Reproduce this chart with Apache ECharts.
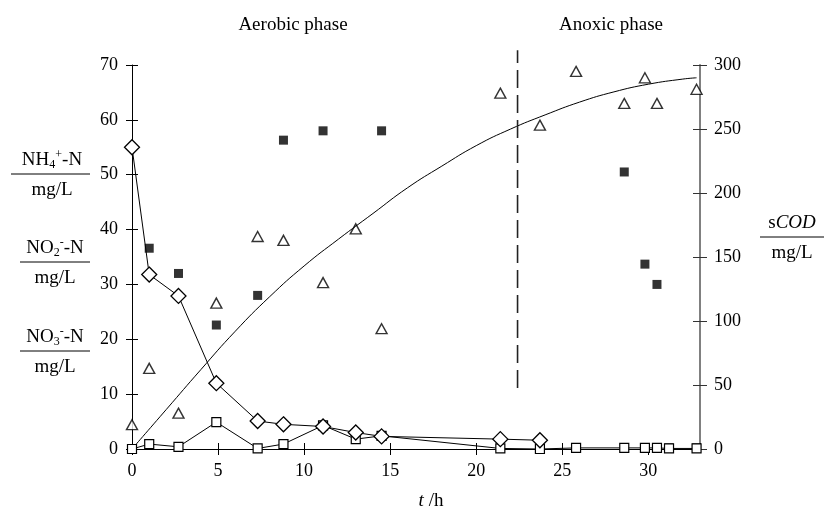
<!DOCTYPE html>
<html>
<head>
<meta charset="utf-8">
<script src="https://cdn.jsdelivr.net/npm/echarts@6/dist/echarts.min.js"></script>
<style>
  html, body { margin: 0; padding: 0; background: #fff; }
  #chart { width: 826px; height: 515px; }
</style>
</head>
<body>
<div id="chart"></div>
<script>
// NH4+-N (open diamonds, joined)
var nh4Time = [0, 1.0, 2.7, 4.9, 7.3, 8.8, 11.1, 13.0, 14.5, 21.4, 23.7];
var nh4Val  = [55, 31.8, 27.9, 12.0, 5.1, 4.5, 4.1, 3.0, 2.3, 1.8, 1.6];
// NO3--N (open squares, joined)
var no3Time = [0, 1.0, 2.7, 4.9, 7.3, 8.8, 11.1, 13.0, 14.5, 21.4, 23.7, 25.8, 28.6, 29.8, 30.5, 31.2, 32.8];
var no3Val  = [0, 0.9, 0.4, 4.9, 0.1, 0.9, 4.3, 1.8, 2.4, 0.1, 0, 0.2, 0.2, 0.2, 0.2, 0.1, 0.1];
// NO2--N (filled squares)
var no2Time = [1.0, 2.7, 4.9, 7.3, 8.8, 11.1, 14.5, 23.7, 28.6, 29.8, 30.5, 31.2, 32.8];
var no2Val  = [36.6, 32.0, 22.6, 28.0, 56.3, 58.0, 58.0, 0, 50.5, 33.7, 30.0, 0.2, 0.2];
// sCOD measured (open triangles, right axis)
var codTime = [0, 1.0, 2.7, 4.9, 7.3, 8.8, 11.1, 13.0, 14.5, 21.4, 23.7, 25.8, 28.6, 29.8, 30.5, 32.8];
var codVal  = [19, 63, 28, 114, 166, 163, 130, 172, 94, 278, 253, 295, 270, 290, 270, 281];
// sCOD fitted curve
var fitTime = [0, 2, 4, 6, 8, 10, 12, 14, 16, 18, 20, 22, 24, 26, 28, 30, 32, 32.8];
var fitVal  = [0, 31, 62, 92, 119, 143, 164, 184, 204, 221, 237, 250, 261, 271, 279, 285, 289, 290];
// phase boundary
var dashTime = [22.4, 22.4];
var dashVal  = [11.1, 72.7];

var leftTicks = [0, 70, 10];
var rightTicks = [0, 300, 50];
var timeTicks = [0, 33, 5];

function pairs(xs, ys) {
  return xs.map(function (x, i) { return [x, ys[i]]; });
}

var FONT = 'Liberation Serif';
var txt = { fontFamily: FONT, fontSize: 18, color: '#000' };

function frac(cx, y, textTop, x1, x2) {
  return [
    { type: 'text', x: cx, y: y, style: { text: textTop, rich: rich, align: 'center', verticalAlign: 'middle', fill: '#000' } },
    { type: 'line', shape: { x1: x1, y1: y + 14, x2: x2, y2: y + 14 }, style: { stroke: '#000', lineWidth: 1 } },
    { type: 'text', x: cx, y: y + 30, style: { text: 'mg/L', font: '19px "Liberation Serif"', align: 'center', verticalAlign: 'middle', fill: '#000' } }
  ];
}

var rich = {
  n: { fontFamily: FONT, fontSize: 19, lineHeight: 22, color: '#000' },
  i: { fontFamily: FONT, fontSize: 19, lineHeight: 22, fontStyle: 'italic', color: '#000' },
  sub: { fontFamily: FONT, fontSize: 12, lineHeight: 12, verticalAlign: 'bottom', color: '#000' },
  sup: { fontFamily: FONT, fontSize: 12, lineHeight: 12, verticalAlign: 'top', color: '#000' }
};

// plain helper axis: only inward ticks, so that ticks cross the real axis
function tickAxis(grid, pos, range, len, color) {
  return {
    type: 'value', gridIndex: grid, position: pos,
    min: range[0], max: range[1], interval: range[2],
    axisLine: { show: false, onZero: false },
    axisTick: { show: true, inside: true, length: len, lineStyle: { color: color } },
    axisLabel: { show: false },
    splitLine: { show: false }
  };
}

var chart = echarts.init(document.getElementById('chart'));

var option = {
  animation: false,
  backgroundColor: '#fff',
  grid: [
    { left: 132, right: 126, top: 65, bottom: 66, outerBoundsMode: 'none' },
    { left: 132, right: 126, top: 37.6, bottom: 66, outerBoundsMode: 'none' },
    { left: 132, right: 126, top: 65, bottom: 66, outerBoundsMode: 'none' },
    { left: 132, right: 126, top: 65, bottom: 66, outerBoundsMode: 'none' }
  ],
  xAxis: [
    {
      type: 'value', gridIndex: 0, position: 'bottom',
      min: timeTicks[0], max: timeTicks[1], interval: timeTicks[2],
      axisLine: { onZero: false, lineStyle: { color: '#000', width: 1 } },
      axisTick: { length: 6, lineStyle: { color: '#000' } },
      axisLabel: Object.assign({ margin: 13, showMaxLabel: false }, txt),
      splitLine: { show: false }
    },
    { type: 'value', gridIndex: 1, min: timeTicks[0], max: timeTicks[1], show: false },
    tickAxis(2, 'bottom', timeTicks, 6, '#000'),
    { type: 'value', gridIndex: 3, min: timeTicks[0], max: timeTicks[1], show: false }
  ],
  yAxis: [
    {
      type: 'value', gridIndex: 0, position: 'left',
      min: leftTicks[0], max: leftTicks[1], interval: leftTicks[2],
      axisLine: { show: true, onZero: false, lineStyle: { color: '#000', width: 1 } },
      axisTick: { show: true, length: 6, lineStyle: { color: '#000' } },
      axisLabel: Object.assign({ margin: 14 }, txt),
      splitLine: { show: false }
    },
    {
      type: 'value', gridIndex: 0, position: 'right',
      min: rightTicks[0], max: rightTicks[1], interval: rightTicks[2],
      axisLine: { show: true, onZero: false, lineStyle: { color: '#808080', width: 2 } },
      axisTick: { show: true, length: 7, lineStyle: { color: '#333' } },
      axisLabel: Object.assign({ margin: 14 }, txt),
      splitLine: { show: false }
    },
    { type: 'value', gridIndex: 1, min: 0, max: 75, show: false },
    tickAxis(2, 'left', leftTicks, 6, '#000'),
    tickAxis(3, 'right', rightTicks, 7, '#333')
  ],
  series: [
    {
      name: 'fit', type: 'line', xAxisIndex: 0, yAxisIndex: 1,
      data: pairs(fitTime, fitVal), smooth: true, symbol: 'none',
      lineStyle: { color: '#000', width: 1 }
    },
    {
      name: 'boundary', type: 'line', xAxisIndex: 1, yAxisIndex: 2,
      data: pairs(dashTime, dashVal), symbol: 'none',
      lineStyle: { color: '#222', width: 1.6, type: [18, 7] }
    },
    {
      name: 'NO3', type: 'line', xAxisIndex: 0, yAxisIndex: 0,
      data: pairs(no3Time, no3Val), symbol: 'rect', symbolSize: 9,
      lineStyle: { color: '#000', width: 1 },
      itemStyle: { color: '#fff', borderColor: '#000', borderWidth: 1.2 }
    },
    {
      name: 'NH4', type: 'line', xAxisIndex: 0, yAxisIndex: 0,
      data: pairs(nh4Time, nh4Val), symbol: 'diamond', symbolSize: [15, 15],
      lineStyle: { color: '#000', width: 1 },
      itemStyle: { color: '#fff', borderColor: '#000', borderWidth: 1.3 }
    },
    {
      name: 'NO2', type: 'scatter', xAxisIndex: 0, yAxisIndex: 0,
      data: pairs(no2Time, no2Val), symbol: 'rect', symbolSize: 9,
      itemStyle: { color: '#000' }
    },
    {
      name: 'sCOD', type: 'scatter', xAxisIndex: 0, yAxisIndex: 1,
      data: pairs(codTime, codVal), symbol: 'triangle', symbolSize: [11, 10],
      itemStyle: { color: '#fff', borderColor: '#000', borderWidth: 1.4 }
    }
  ],
  graphic: [
    { type: 'text', x: 293, y: 25, style: { text: 'Aerobic phase', font: '19px "Liberation Serif"', align: 'center', verticalAlign: 'middle', fill: '#000' } },
    { type: 'text', x: 611, y: 25, style: { text: 'Anoxic phase', font: '19px "Liberation Serif"', align: 'center', verticalAlign: 'middle', fill: '#000' } },
    { type: 'text', x: 431, y: 501, style: { text: '{i|t}{n| /h}', rich: rich, align: 'center', verticalAlign: 'middle' } }
  ]
    .concat(frac(52, 160, '{n|NH}{sub|4}{sup|+}{n|-N}', 11, 90))
    .concat(frac(55, 248, '{n|NO}{sub|2}{sup|-}{n|-N}', 20, 90))
    .concat(frac(55, 337, '{n|NO}{sub|3}{sup|-}{n|-N}', 20, 90))
    .concat([
      { type: 'text', x: 792, y: 223, style: { text: '{n|s}{i|COD}', rich: rich, align: 'center', verticalAlign: 'middle' } },
      { type: 'line', shape: { x1: 760, y1: 237, x2: 824, y2: 237 }, style: { stroke: '#000', lineWidth: 1 } },
      { type: 'text', x: 792, y: 253, style: { text: 'mg/L', font: '19px "Liberation Serif"', align: 'center', verticalAlign: 'middle', fill: '#000' } }
    ])
};

chart.setOption(option);
</script>
</body>
</html>
